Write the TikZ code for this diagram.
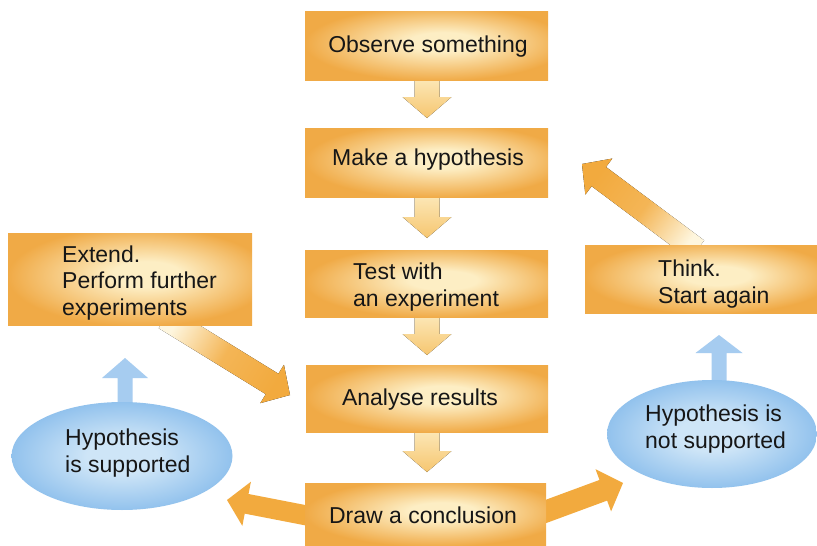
\documentclass[tikz,border=0pt]{standalone}
\usepackage{fontspec}
\setmainfont{Liberation Sans}
\usetikzlibrary{calc,shapes.geometric}
\definecolor{boxdark}{RGB}{240,170,70}
\definecolor{boxlight}{RGB}{253,238,196}
\definecolor{arrdark}{RGB}{242,170,62}
\definecolor{arrmid}{RGB}{246,198,112}
\definecolor{arrlight}{RGB}{252,232,184}
\definecolor{arrwhite}{RGB}{254,246,222}
\definecolor{blueedge}{RGB}{146,194,237}
\definecolor{bluecenter}{RGB}{206,229,247}
\definecolor{bluearrow}{RGB}{166,204,240}
\definecolor{txt}{RGB}{22,22,22}
\pgfdeclareradialshading{boxshade}{\pgfpoint{4bp}{3bp}}{color(0bp)=(boxlight); color(7bp)=(boxlight); color(27bp)=(boxdark); color(50bp)=(boxdark)}
\pgfdeclareradialshading{bubbleshade}{\pgfpoint{0bp}{0bp}}{color(0bp)=(bluecenter); color(8bp)=(bluecenter); color(25bp)=(blueedge); color(50bp)=(blueedge)}
\newcommand{\blockarrow}[6]{%
  \coordinate (ba-h) at ($(#2)!#5pt!(#1)$);
  \fill[#6] ($(#1)!#3pt!90:(#2)$) -- ($(ba-h)!#3pt!90:(#2)$) -- ($(ba-h)!#4pt!90:(#2)$) -- (#2)
    -- ($(ba-h)!#4pt!-90:(#2)$) -- ($(ba-h)!#3pt!-90:(#2)$) -- ($(#1)!#3pt!-90:(#2)$) -- cycle;}
\begin{document}
\begin{tikzpicture}[x=1pt,y=-1pt,
  box/.style={rectangle, inner sep=0pt, shading=boxshade},
  bubble/.style={ellipse, inner sep=0pt, shading=bubbleshade},
  lbl/.style={font=\fontsize{23}{26.5}\selectfont, text=txt, inner sep=0pt, align=left},
  downarr/.style={top color=arrlight, bottom color=arrmid},
  fadearr/.style={top color=arrdark, bottom color=arrwhite, middle color=arrdark!85!arrwhite, shading angle=#1},
  solidarr/.style={fill=arrdark},
  bluearr/.style={fill=bluearrow}]
\fill[white] (0,0) rectangle (817,546);
\useasboundingbox (0,0) rectangle (817,546);
% arrow end points
\coordinate (d1a) at (427,78);  \coordinate (d1b) at (427,118);
\coordinate (d2a) at (427,195); \coordinate (d2b) at (427,238);
\coordinate (d3a) at (427,315); \coordinate (d3b) at (427,355);
\coordinate (d4a) at (427,430); \coordinate (d4b) at (427,472);
\coordinate (exa) at (165,318); \coordinate (exb) at (290,395);
\coordinate (tha) at (697,250); \coordinate (thb) at (582,164);
\coordinate (bla) at (330,520); \coordinate (blb) at (227,500);
\coordinate (bra) at (520,521); \coordinate (brb) at (623,483);
\coordinate (ula) at (125,410); \coordinate (ulb) at (125,358);
\coordinate (ura) at (719,390); \coordinate (urb) at (719,335);
% arrows
\blockarrow{d1a}{d1b}{12.5}{24.5}{21}{downarr}
\blockarrow{d2a}{d2b}{12.5}{24.5}{21}{downarr}
\blockarrow{d3a}{d3b}{12.5}{24.5}{21}{downarr}
\blockarrow{d4a}{d4b}{12.5}{24.5}{21}{downarr}
\blockarrow{exa}{exb}{12}{22.5}{21}{fadearr=-121.6}
\blockarrow{tha}{thb}{12}{22.5}{21}{fadearr=53.2}
\blockarrow{bla}{blb}{10}{22.5}{20}{solidarr}
\blockarrow{bra}{brb}{11}{22.5}{21}{solidarr}
\blockarrow{ula}{ulb}{7.5}{23}{20}{bluearr}
\blockarrow{ura}{urb}{7.5}{23.5}{18}{bluearr}
% boxes
\node[box, minimum width=243pt, minimum height=69pt] (obs) at (426.5,45.5) {};
\node[box, minimum width=243pt, minimum height=69pt] (hyp) at (426.5,162.5) {};
\node[box, minimum width=243pt, minimum height=67pt] (test) at (426.5,283.5) {};
\node[box, minimum width=242pt, minimum height=67pt] (ana) at (427,398.5) {};
\node[box, minimum width=241pt, minimum height=63pt] (concl) at (425.5,514.5) {};
\node[box, minimum width=244pt, minimum height=92pt] (ext) at (130,279) {};
\node[box, minimum width=232pt, minimum height=68pt] (think) at (701,279) {};
\node[bubble, minimum width=221pt, minimum height=108pt] (supp) at (122,456) {};
\node[bubble, minimum width=210pt, minimum height=108pt] (nsupp) at (712,434) {};
% texts (multi-line nodes: base = last line)
\node[lbl, anchor=base] (obs-t) at (428,52) {Observe something};
\node[lbl, anchor=base] (hyp-t) at (428,165) {Make a hypothesis};
\node[lbl, anchor=base west] (test-t) at (353,306) {Test with\\an experiment};
\node[lbl, anchor=base] (ana-t) at (420,405) {Analyse results};
\node[lbl, anchor=base] (concl-t) at (423,523) {Draw a conclusion};
\node[lbl, anchor=base west] (ext-t) at (62,315) {Extend.\\Perform further\\experiments};
\node[lbl, anchor=base west] (think-t) at (658,303) {Think.\\Start again};
\node[lbl, anchor=base west] (supp-t) at (65,472) {Hypothesis\\is supported};
\node[lbl, anchor=base west] (nsupp-t) at (645,448) {Hypothesis is\\not supported};
\end{tikzpicture}
\end{document}
